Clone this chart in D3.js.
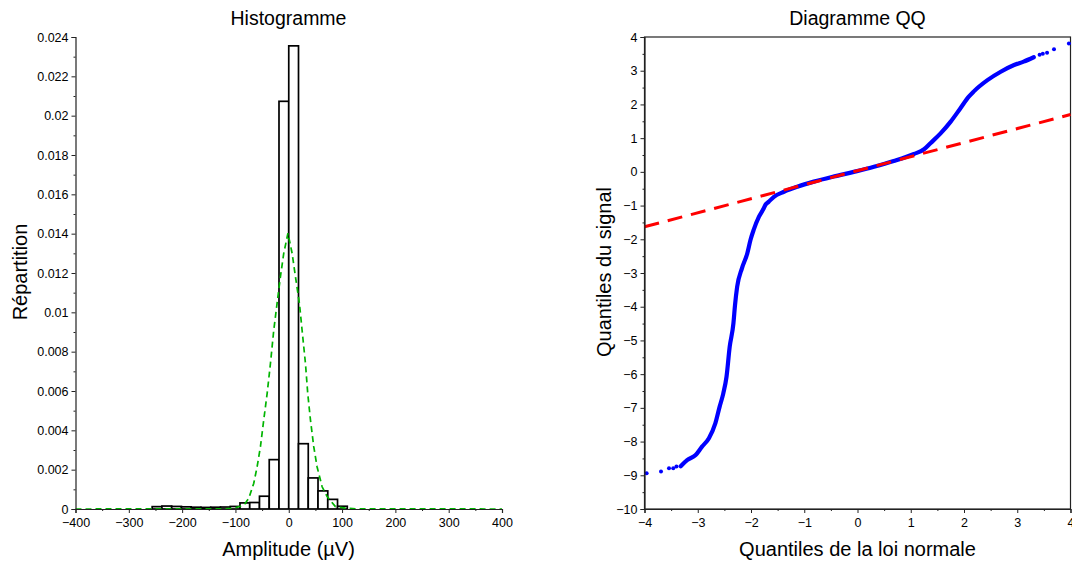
<!DOCTYPE html>
<html><head><meta charset="utf-8">
<script src="https://cdn.jsdelivr.net/npm/d3@7"></script>
<style>
body{margin:0;background:#fff}
svg{display:block}
text{font-family:"Liberation Sans",Arial,Helvetica,sans-serif;fill:#000}
</style>
</head><body>
<svg id="c" width="1072" height="563"></svg>
<script>
// ---------- Histogram data ----------
const binEdges = [-256.2,-237.9,-219.6,-201.3,-183.0,-164.7,-146.4,-128.1,-109.8,-91.5,-73.2,-54.9,-36.6,-18.3,0,18.3,36.6,54.9,73.2,91.5,109.8];
const binDensity = [0.00012,0.00015,0.00013,0.00011,0.00009,0.00008,0.00009,0.00010,0.00013,0.00031,0.00033,0.00065,0.00251,0.02073,0.02355,0.00332,0.00158,0.00092,0.00049,0.00014];
const fitX = [-400,-120,-103,-84,-75,-65.6,-59.3,-53.1,-46.9,-40.5,-34.3,-28.1,-21.9,-15.6,-9.4,-1.5,6.3,12.6,20,25,31.3,35.6,40.7,46.9,53.1,62.6,72,87.6,109,125,400];
const fitY = [0,0.00001,0.00004,0.0002,0.00054,0.00131,0.00215,0.00317,0.00453,0.00588,0.00741,0.0091,0.01046,0.01181,0.0130,0.01402,0.0130,0.01181,0.01046,0.0091,0.00741,0.00588,0.00453,0.00317,0.00215,0.00113,0.00063,0.00012,0.00004,0.00001,0];
const histXTicks = [-400,-300,-200,-100,0,100,200,300,400];
const histXMinor = [-350,-250,-150,-50,50,150,250,350];
const histYTicks = [0,0.002,0.004,0.006,0.008,0.01,0.012,0.014,0.016,0.018,0.02,0.022,0.024];
const histYMinor = [0.001,0.003,0.005,0.007,0.009,0.011,0.013,0.015,0.017,0.019,0.021,0.023];

// ---------- QQ data ----------
const qqTheo = [-3.32,-3.20,-3.04,-2.92,-2.79,-2.67,-2.59,-2.52,-2.46,-2.40,-2.33,-2.30,-2.26,-2.17,-2.07,-2.01,-1.95,-1.85,-1.76,-1.73,-1.67,-1.57,-1.38,-1.13,-0.82,-0.45,-0.07,0.31,0.68,1.06,1.25,1.37,1.56,1.75,1.93,2.09,2.18,2.44,2.69,2.94,3.12,3.31];
const qqSample = [-8.73,-8.55,-8.40,-8.15,-7.90,-7.46,-6.97,-6.57,-6.08,-5.19,-4.49,-3.95,-3.41,-2.86,-2.42,-2.02,-1.72,-1.33,-1.08,-0.98,-0.89,-0.74,-0.59,-0.44,-0.29,-0.14,0.00,0.15,0.32,0.53,0.67,0.85,1.14,1.49,1.88,2.23,2.38,2.72,2.97,3.17,3.27,3.40];
const qqTailTheo = [-3.96,-3.69,-3.54,-3.46,-3.40,3.42,3.48,3.56,3.69,3.97];
const qqTailSample = [-8.94,-8.89,-8.79,-8.79,-8.74,3.47,3.50,3.53,3.64,3.81];
const refLineX = [-4,4];
const refLineY = [-1.63,1.70];
const qqXTicks = [-4,-3,-2,-1,0,1,2,3,4];
const qqXMinor = [-3.5,-2.5,-1.5,-0.5,0.5,1.5,2.5,3.5];
const qqYTicks = [-10,-9,-8,-7,-6,-5,-4,-3,-2,-1,0,1,2,3,4];
const qqYMinor = [-9.5,-8.5,-7.5,-6.5,-5.5,-4.5,-3.5,-2.5,-1.5,-0.5,0.5,1.5,2.5,3.5];

const svg = d3.select("#c");
const minus = s => String(s).replace("-", "\u2212");
const axisColor = "#222";

function styleAxis(g){
  g.selectAll("path.domain").attr("stroke", axisColor).attr("stroke-width", 1.2);
  g.selectAll(".tick line").attr("stroke", axisColor).attr("stroke-width", 1);
  g.selectAll(".tick text").style("font-size","12.5px").attr("fill","#000");
}

// ===== Left: histogram =====
const hx = d3.scaleLinear().domain([-400,400]).range([75.5,502]);
const hy = d3.scaleLinear().domain([0,0.024]).range([509,37]);
const L = svg.append("g");

const bins = binDensity.map((v,i)=>({x0:binEdges[i],x1:binEdges[i+1],v}));
L.append("g").selectAll("rect").data(bins).join("rect")
  .attr("x", d=>hx(d.x0)).attr("width", d=>hx(d.x1)-hx(d.x0))
  .attr("y", d=>hy(d.v)).attr("height", d=>hy(0)-hy(d.v))
  .attr("fill","#fff").attr("stroke","#000").attr("stroke-width",1.7);

L.append("path").datum(fitX.map((x,i)=>[x,fitY[i]]))
  .attr("d", d3.line().x(d=>hx(d[0])).y(d=>hy(d[1])))
  .attr("fill","none").attr("stroke","#00b400").attr("stroke-width",1.7)
  .attr("stroke-dasharray","6,4");

const hxAxis = L.append("g").attr("transform","translate(0,509)")
  .call(d3.axisBottom(hx).tickValues(histXTicks).tickSize(4).tickPadding(5).tickFormat(d=>minus(d)));
styleAxis(hxAxis);
const hxMinor = L.append("g").attr("transform","translate(0,509)")
  .call(d3.axisBottom(hx).tickValues(histXMinor).tickSize(2).tickFormat(""));
hxMinor.select("path.domain").remove();
styleAxis(hxMinor);

const hyAxis = L.append("g").attr("transform","translate(75.5,0)")
  .call(d3.axisLeft(hy).tickValues(histYTicks).tickSize(4).tickPadding(3).tickFormat(d=>d3.format("~g")(+d.toFixed(3))));
styleAxis(hyAxis);
const hyMinor = L.append("g").attr("transform","translate(75.5,0)")
  .call(d3.axisLeft(hy).tickValues(histYMinor).tickSize(2).tickFormat(""));
hyMinor.select("path.domain").remove();
styleAxis(hyMinor);

L.append("text").attr("x",288.5).attr("y",25).attr("text-anchor","middle").style("font-size","19.5px").text("Histogramme");
L.append("text").attr("x",288.5).attr("y",556).attr("text-anchor","middle").style("font-size","20px").text("Amplitude (\u00b5V)");
L.append("text").attr("transform","translate(27,272) rotate(-90)").attr("text-anchor","middle").style("font-size","20px").text("R\u00e9partition");

// ===== Right: QQ plot =====
const qx = d3.scaleLinear().domain([-4,4]).range([644.5,1070.5]);
const qy = d3.scaleLinear().domain([-10,4]).range([509,37]);
const R = svg.append("g");

R.append("rect").attr("x",644.5).attr("y",37).attr("width",426).attr("height",472)
  .attr("fill","none").attr("stroke",axisColor).attr("stroke-width",1.2);

R.append("path").datum(qqTheo.map((x,i)=>[x,qqSample[i]]))
  .attr("d", d3.line().curve(d3.curveMonotoneX).x(d=>qx(d[0])).y(d=>qy(d[1])))
  .attr("fill","none").attr("stroke","#0000ff").attr("stroke-width",4.2)
  .attr("stroke-linecap","round").attr("stroke-linejoin","round");
R.append("g").selectAll("circle").data(qqTailTheo.map((x,i)=>[x,qqTailSample[i]])).join("circle")
  .attr("cx",d=>qx(d[0])).attr("cy",d=>qy(d[1])).attr("r",2).attr("fill","#0000ff");

R.append("path").datum(refLineX.map((x,i)=>[x,refLineY[i]]))
  .attr("d", d3.line().x(d=>qx(d[0])).y(d=>qy(d[1])))
  .attr("fill","none").attr("stroke","#ff0000").attr("stroke-width",3)
  .attr("stroke-dasharray","15,9");

const qxAxis = R.append("g").attr("transform","translate(0,509)")
  .call(d3.axisBottom(qx).tickValues(qqXTicks).tickSize(4).tickPadding(5).tickFormat(d=>minus(d)));
styleAxis(qxAxis);
const qxMinor = R.append("g").attr("transform","translate(0,509)")
  .call(d3.axisBottom(qx).tickValues(qqXMinor).tickSize(2).tickFormat(""));
qxMinor.select("path.domain").remove();
styleAxis(qxMinor);

const qyAxis = R.append("g").attr("transform","translate(644.5,0)")
  .call(d3.axisLeft(qy).tickValues(qqYTicks).tickSize(4).tickPadding(3).tickFormat(d=>minus(d)));
styleAxis(qyAxis);
const qyMinor = R.append("g").attr("transform","translate(644.5,0)")
  .call(d3.axisLeft(qy).tickValues(qqYMinor).tickSize(2).tickFormat(""));
qyMinor.select("path.domain").remove();
styleAxis(qyMinor);

R.append("text").attr("x",857.5).attr("y",25).attr("text-anchor","middle").style("font-size","19.5px").text("Diagramme QQ");
R.append("text").attr("x",857.5).attr("y",556).attr("text-anchor","middle").style("font-size","20px").text("Quantiles de la loi normale");
R.append("text").attr("transform","translate(611,272) rotate(-90)").attr("text-anchor","middle").style("font-size","20px").text("Quantiles du signal");
</script>
</body></html>
